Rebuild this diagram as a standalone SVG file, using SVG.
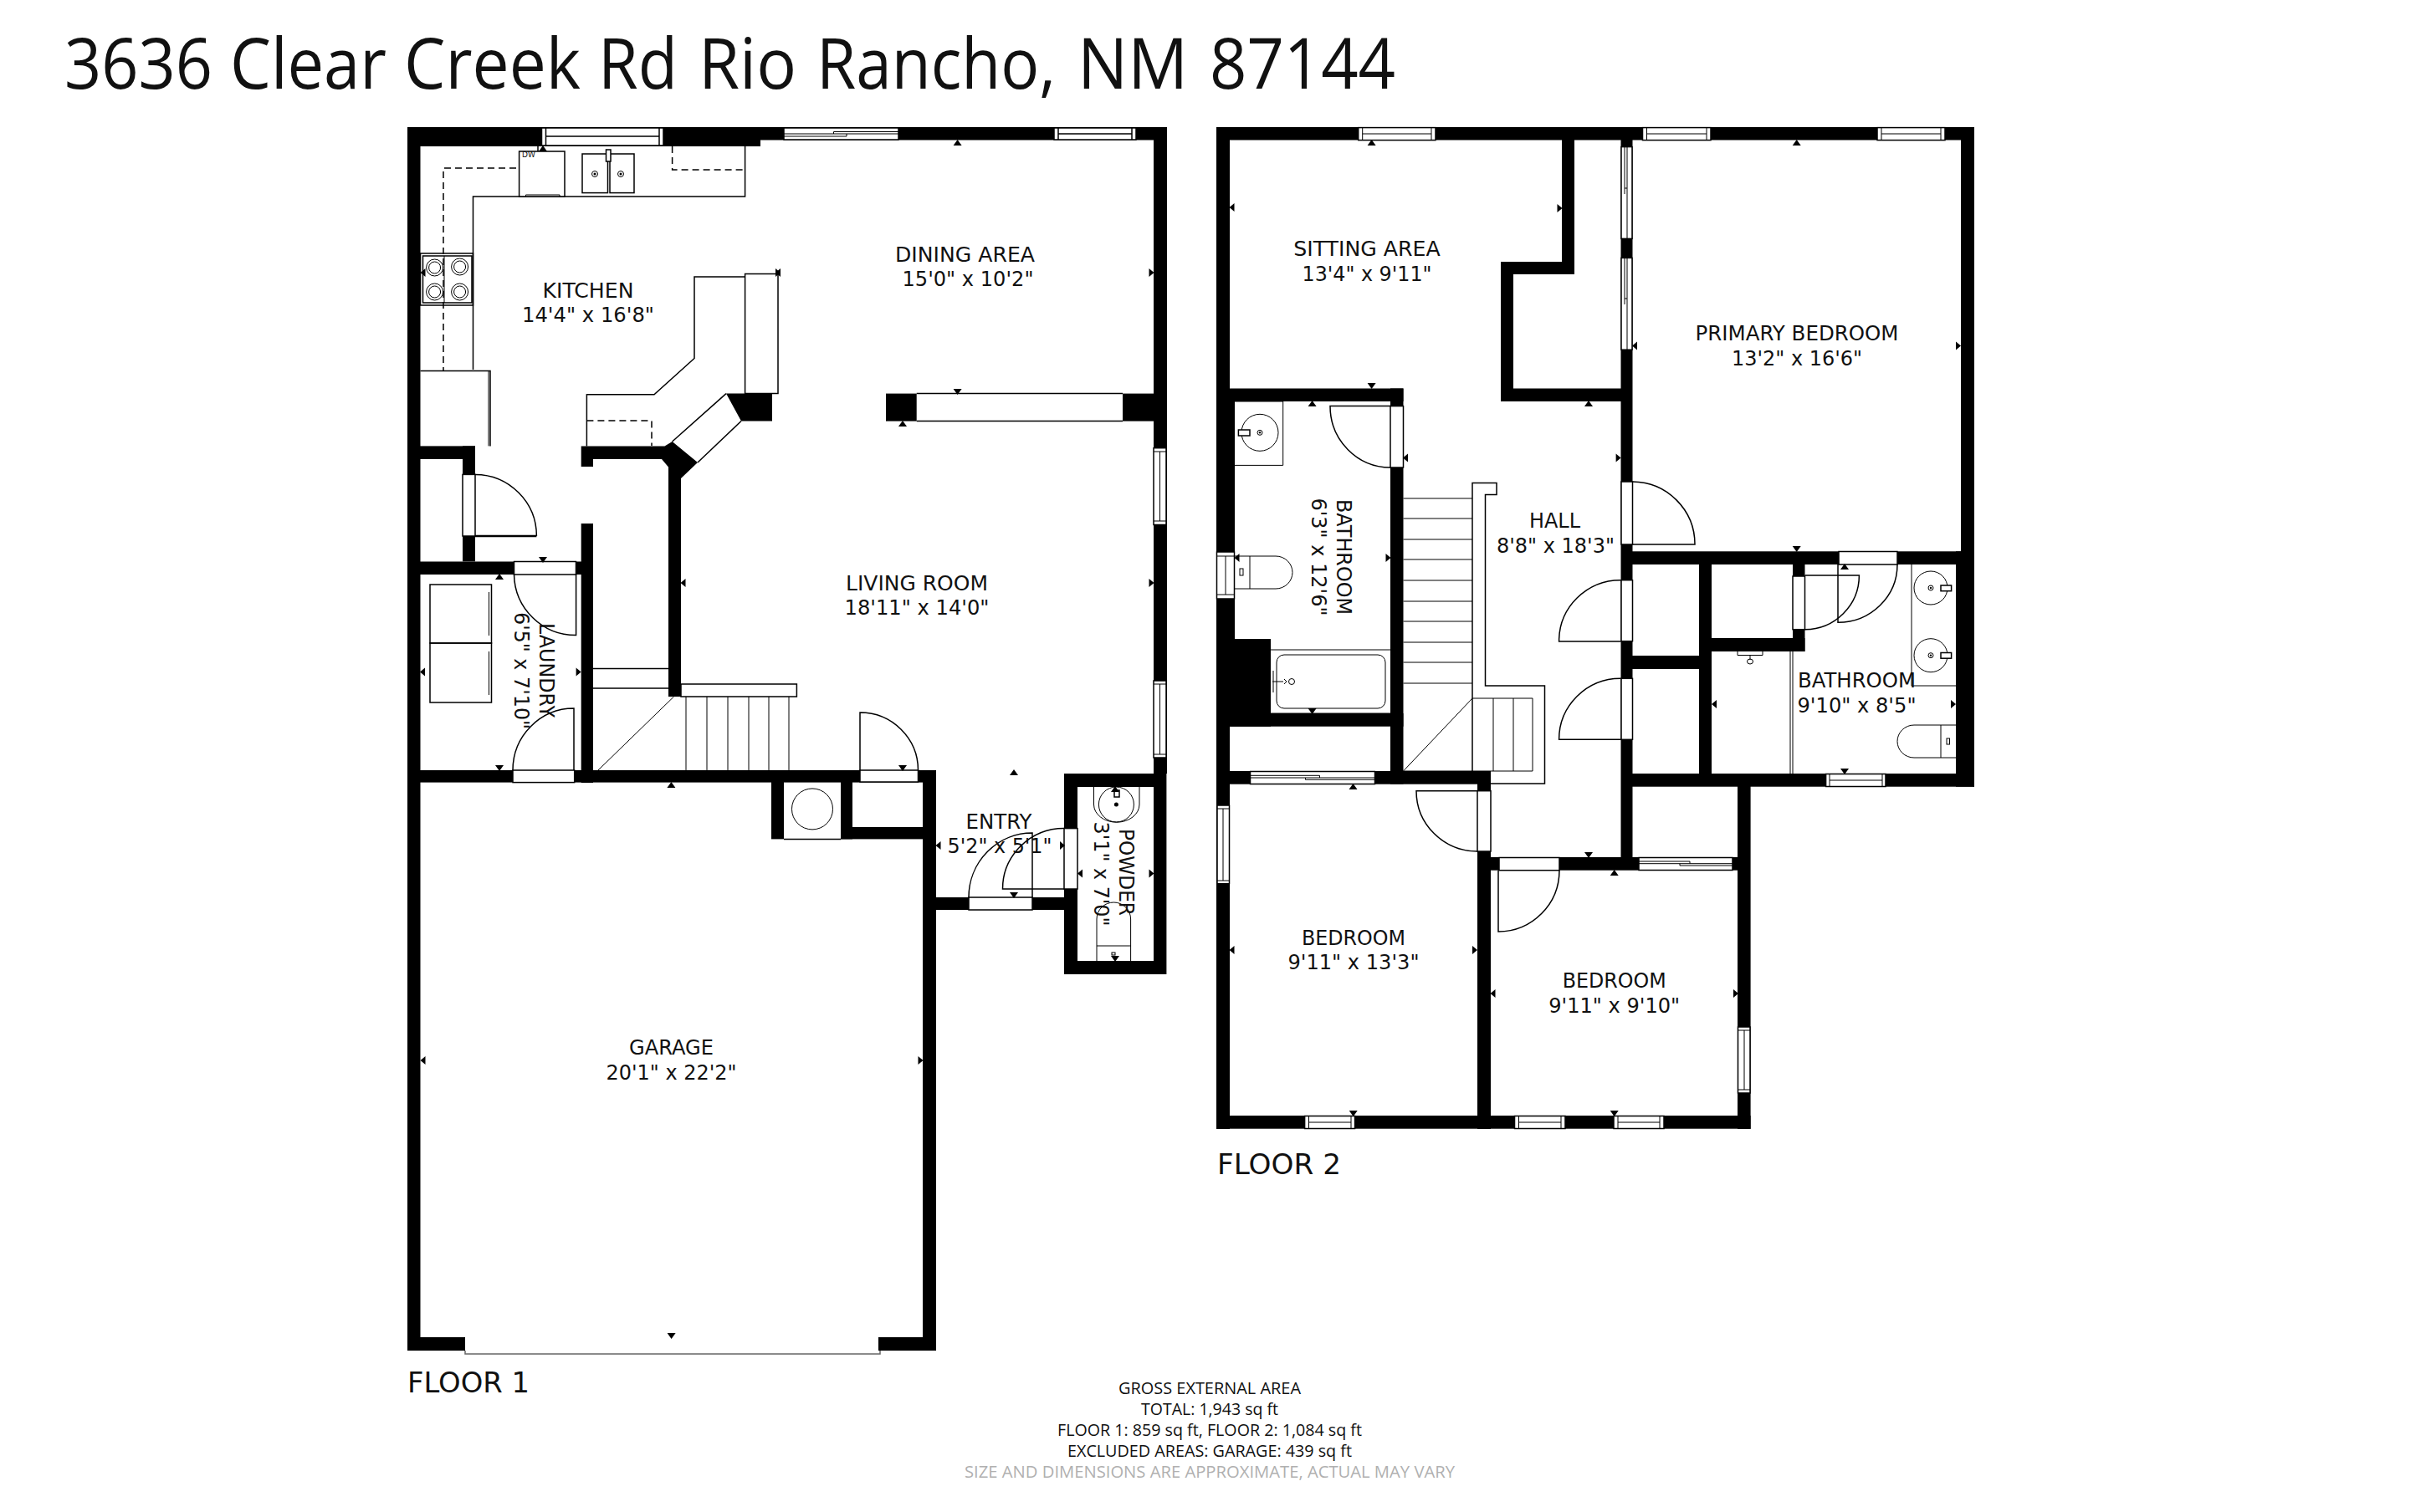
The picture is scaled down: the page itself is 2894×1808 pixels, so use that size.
<svg xmlns="http://www.w3.org/2000/svg" width="2894" height="1808" viewBox="0 0 2894 1808">
<style>
text{font-family:"DejaVu Sans","Liberation Sans",sans-serif;fill:#111;font-size:24px;text-anchor:middle}
.title{font-family:"Open Sans","Noto Sans",sans-serif;font-size:84px;text-anchor:start}
.floor{font-size:33px;text-anchor:start}
.foot{font-family:"Open Sans","Noto Sans",sans-serif;font-size:20px}
.note{fill:#b0b0b0}
.w{fill:#000}
.o{fill:#fff;stroke:#000;stroke-width:1.5}
.l{fill:none;stroke:#000;stroke-width:1.5}
.t{fill:none;stroke:#000;stroke-width:1}
.h{fill:none;stroke:#000;stroke-width:2.5}
.d{fill:none;stroke:#000;stroke-width:1.5;stroke-dasharray:8 5}
.g{fill:none;stroke:#666;stroke-width:1.5}
</style>
<defs>
<polygon id="tu" points="0,-4 5,3 -5,3" fill="#000"/>
<polygon id="td" points="0,4 5,-3 -5,-3" fill="#000"/>
<polygon id="tl" points="-3,0 3,-5 3,5" fill="#000"/>
<polygon id="tr" points="3,0 -3,-5 -3,5" fill="#000"/>
</defs>
<rect width="2894" height="1808" fill="#fff"/>
<text class="title" y="105.5"><tspan x="77" textLength="177" lengthAdjust="spacingAndGlyphs">3636</tspan> <tspan x="275" textLength="187" lengthAdjust="spacingAndGlyphs">Clear</tspan> <tspan x="483" textLength="211" lengthAdjust="spacingAndGlyphs">Creek</tspan> <tspan x="715" textLength="95" lengthAdjust="spacingAndGlyphs">Rd</tspan> <tspan x="835" textLength="117" lengthAdjust="spacingAndGlyphs">Rio</tspan> <tspan x="976" textLength="286" lengthAdjust="spacingAndGlyphs">Rancho,</tspan> <tspan x="1288" textLength="132" lengthAdjust="spacingAndGlyphs">NM</tspan> <tspan x="1446" textLength="222" lengthAdjust="spacingAndGlyphs">87144</tspan></text>

<g id="floor1">
<g id="f1-walls">
<rect class="w" x="487" y="152" width="422" height="23"/>
<rect class="w" x="909" y="152" width="486" height="15.5"/>
<rect class="w" x="487" y="152" width="15.5" height="1463"/>
<rect class="w" x="1379" y="152" width="16" height="773"/>
<rect class="w" x="487" y="533.4" width="81" height="15.6"/>
<rect class="w" x="553" y="533.4" width="15" height="138"/>
<rect class="w" x="487" y="671.5" width="222" height="15.5"/>
<rect class="w" x="694.7" y="626" width="14.3" height="310"/>
<polygon class="w" points="694.7,533.4 794.5,533.4 803.6,528 834,553 814,572 814,833 799,833 799,558.6 791,549 709,549 709,558 694.7,558"/>
<polygon class="w" points="868,470.6 923,470.6 923,503.5 886,503.5"/>
<rect class="w" x="1059" y="470.6" width="36.7" height="33"/>
<rect class="w" x="1342" y="470.6" width="40" height="33"/>
<rect class="w" x="487" y="921" width="632" height="14.6"/>
<rect class="w" x="1103" y="921" width="16" height="694"/>
<rect class="w" x="922" y="935" width="15" height="68.4"/>
<rect class="w" x="1005" y="935" width="14" height="68.4"/>
<rect class="w" x="1005" y="989" width="114" height="14.4"/>
<rect class="w" x="1119" y="1073" width="153" height="15"/>
<path class="w" d="M1272,925H1394.4V1165H1272ZM1288,941V1149H1379V941Z" fill-rule="evenodd"/>
<rect class="w" x="487" y="1599" width="69" height="16"/>
<rect class="w" x="1050" y="1599" width="69" height="16"/>
</g>
<g id="f1-openings">
<rect class="o" x="647.5" y="153" width="145.5" height="21"/>
<path class="l" d="M652.5,153V174M788,153V174M652.5,163H788"/>
<rect class="o" x="937" y="153" width="137" height="14"/>
<path class="t" d="M937,160H1074M996.5,160V157.5H1074M1012,160V163H937"/>
<rect class="o" x="1260" y="153" width="98" height="14"/>
<path class="l" d="M1265,153V167M1353,153V167M1265,160H1353"/>
<rect class="o" x="1379" y="535.7" width="15" height="91.8"/>
<path class="t" d="M1379,540H1394M1379,623H1394M1386.5,540V623"/>
<rect class="o" x="1379" y="814" width="15" height="92"/>
<path class="t" d="M1379,818H1394M1379,902H1394M1386.5,818V902"/>
<path class="l" d="M1095.7,470.6H1342M1095.7,503.5H1342"/>
<path class="l" d="M868,470.6L803.6,528M886,503.5L834,553"/>
<rect class="o" x="553" y="567.4" width="15" height="73.6"/>
<path class="h" d="M568,641H641.4"/><path class="l" d="M568,567.4A73.6,73.6 0 0 1 641.4,641"/>
<rect class="o" x="614.5" y="671.5" width="74" height="15.5"/>
<path class="l" d="M688.6,687V759.6A74,74 0 0 1 614.5,687"/>
<rect class="o" x="613" y="921" width="73.7" height="14.6"/>
<path class="l" d="M686,921V847A73,74 0 0 0 613,921"/>
<rect class="o" x="1028" y="921" width="69.5" height="14"/>
<path class="l" d="M1028,921V852A69.5,69 0 0 1 1097.5,921"/>
<rect class="o" x="1158" y="1073" width="76" height="15"/>
<path class="l" d="M1234,1073V996A76,77 0 0 0 1158,1073"/>
<rect class="o" x="1272" y="990.6" width="16" height="72.4"/>
<path class="l" d="M1272,1063H1198.5A73.5,72.4 0 0 1 1272,990.6"/>
<path class="g" d="M556,1615V1619H1052V1615"/>
</g>
<g id="f1-fixtures">
<path class="l" d="M565.5,442V235H890.6V175"/>
<path class="d" d="M643,175V201H530V443"/>
<path class="d" d="M803.6,175V203H890.6"/>
<rect class="o" x="620.6" y="181" width="54.4" height="54"/>
<path class="t" d="M628.5,235V233H669V235"/>
<text x="632" y="188" style="font-size:9px">DW</text>
<rect class="l" x="696" y="184" width="30.5" height="46.6"/>
<rect class="l" x="729" y="184" width="29" height="46.6"/>
<rect class="o" x="724.5" y="179" width="5.5" height="14"/>
<circle class="t" cx="711" cy="208" r="3.5"/><circle class="w" cx="711" cy="208" r="1.5"/>
<circle class="t" cx="742" cy="208" r="3.5"/><circle class="w" cx="742" cy="208" r="1.5"/>
<rect class="l" x="502.5" y="303" width="63" height="62"/>
<rect class="l" x="505.5" y="306" width="58.5" height="56"/>
<path class="t" d="M531,306V362"/>
<circle class="t" cx="519.6" cy="320" r="10"/><circle class="t" cx="519.6" cy="320" r="7"/>
<circle class="t" cx="549.6" cy="319" r="10"/><circle class="t" cx="549.6" cy="319" r="7"/>
<circle class="t" cx="519.6" cy="349" r="10"/><circle class="t" cx="519.6" cy="349" r="7"/>
<circle class="t" cx="549.6" cy="349" r="10"/><circle class="t" cx="549.6" cy="349" r="7"/>
<path class="l" d="M502.5,443.4H586V533.4"/><path class="t" d="M584,443.4V533.4"/>
<path class="l" d="M701.4,533.4V471.7H782L830,428.5V331H890.6"/>
<rect class="l" x="890.6" y="327.5" width="39.4" height="143"/>
<path class="d" d="M701.4,503H779V533"/>
<rect class="l" x="514" y="699" width="73.5" height="70"/>
<rect class="l" x="514" y="769" width="73.5" height="71"/>
<path class="t" d="M584.5,708V760M584.5,779V831"/>
<path class="l" d="M709,799.6H799M709,823H799"/>
<rect class="l" x="814" y="818" width="138.4" height="15"/>
<path class="t" d="M820,833V921M845,833V921M870,833V921M895,833V921M919,833V921M943,833V921"/>
<path class="t" d="M805.5,833L715,921"/>
<circle class="t" cx="971" cy="967.4" r="24.5"/>
<path class="l" d="M937,1003.4H1005"/>
<path class="t" d="M1307.5,941V962A27,21 0 0 0 1362,962V941"/>
<circle class="t" cx="1334.4" cy="962" r="21"/><circle class="w" cx="1334.4" cy="962" r="2.5"/>
<rect class="o" x="1332" y="945" width="6" height="8"/>
<path class="t" d="M1311,1149V1099A20.3,20 0 0 1 1351.6,1099V1149M1311,1131H1351.6"/>
<rect class="t" x="1329" y="1139" width="4" height="3"/>
</g>
<g id="f1-marks">
<use href="#tu" x="649" y="178"/><use href="#tu" x="1144.6" y="171"/><use href="#tl" x="505.5" y="326"/><use href="#tl" x="930" y="326"/><use href="#tr" x="930" y="326"/><use href="#tr" x="1376.5" y="326"/>
<use href="#td" x="1144.6" y="468"/><use href="#tu" x="1079" y="507"/><use href="#td" x="649" y="669"/><use href="#tu" x="597" y="690"/><use href="#tl" x="816.5" y="697"/><use href="#tr" x="1376.5" y="697"/>
<use href="#tl" x="505" y="803.5"/><use href="#tr" x="691.6" y="803.5"/><use href="#td" x="597" y="918"/><use href="#tu" x="802.4" y="939"/><use href="#td" x="1079" y="918"/><use href="#tu" x="1212" y="924"/>
<use href="#tl" x="1121.5" y="1011"/><use href="#tr" x="1270" y="1011"/><use href="#td" x="1212" y="1070"/><use href="#tu" x="1333" y="944"/><use href="#tl" x="1291" y="1044.5"/><use href="#tr" x="1376.5" y="1044.5"/><use href="#td" x="1333" y="1146"/>
<use href="#tl" x="505.5" y="1268"/><use href="#tr" x="1100.5" y="1268"/><use href="#td" x="802.6" y="1597"/>
</g>
<g id="f1-labels">
<text x="703" y="356" textLength="109" lengthAdjust="spacingAndGlyphs">KITCHEN</text>
<text x="703" y="385" textLength="158" lengthAdjust="spacingAndGlyphs">14'4" x 16'8"</text>
<text x="1153.5" y="313" textLength="167" lengthAdjust="spacingAndGlyphs">DINING AREA</text>
<text x="1157" y="341.6" textLength="157" lengthAdjust="spacingAndGlyphs">15'0" x 10'2"</text>
<text x="1096" y="706" textLength="170" lengthAdjust="spacingAndGlyphs">LIVING ROOM</text>
<text x="1096" y="734.6" textLength="173" lengthAdjust="spacingAndGlyphs">18'11" x 14'0"</text>
<text transform="translate(645,801.5) rotate(90)" textLength="113" lengthAdjust="spacingAndGlyphs">LAUNDRY</text>
<text transform="translate(615,802) rotate(90)" textLength="140" lengthAdjust="spacingAndGlyphs">6'5" x 7'10"</text>
<text x="1194" y="990.6" textLength="79" lengthAdjust="spacingAndGlyphs">ENTRY</text>
<text x="1195" y="1020" textLength="125" lengthAdjust="spacingAndGlyphs">5'2" x 5'1"</text>
<text transform="translate(1338,1043) rotate(90)" textLength="104" lengthAdjust="spacingAndGlyphs">POWDER</text>
<text transform="translate(1308,1045) rotate(90)" textLength="125" lengthAdjust="spacingAndGlyphs">3'1" x 7'0"</text>
<text x="802.5" y="1260.7" textLength="101" lengthAdjust="spacingAndGlyphs">GARAGE</text>
<text x="802.5" y="1291" textLength="156" lengthAdjust="spacingAndGlyphs">20'1" x 22'2"</text>
<text class="floor" x="487" y="1665" textLength="146" lengthAdjust="spacingAndGlyphs">FLOOR 1</text>
</g>
</g>

<g id="floor2">
<g id="f2-walls">
<rect class="w" x="1454" y="152" width="906" height="15.5"/>
<rect class="w" x="1454" y="152" width="16" height="1198"/>
<rect class="w" x="1454" y="480" width="22" height="284"/>
<rect class="w" x="1454" y="764" width="65" height="104.7"/>
<rect class="w" x="2344" y="152" width="16" height="515"/>
<rect class="w" x="2338" y="659.3" width="22" height="281.4"/>
<rect class="w" x="1867" y="152" width="15" height="176"/>
<rect class="w" x="1794" y="313" width="88" height="15"/>
<rect class="w" x="1794" y="313" width="15" height="167"/>
<rect class="w" x="1794" y="464.5" width="150" height="15.5"/>
<rect class="w" x="1937.5" y="152" width="14" height="888"/>
<rect class="w" x="1454" y="464.5" width="223.5" height="15.5"/>
<rect class="w" x="1662" y="464.5" width="15.5" height="473"/>
<rect class="w" x="1470" y="853" width="207.5" height="15.7"/>
<rect class="w" x="1454" y="922" width="328" height="15.7"/>
<rect class="w" x="1766" y="922" width="16" height="428"/>
<rect class="w" x="1766" y="1025" width="311" height="15.7"/>
<rect class="w" x="1951" y="659.3" width="409" height="15.7"/>
<rect class="w" x="2031" y="675" width="15" height="250"/>
<rect class="w" x="1951" y="784" width="80" height="16"/>
<rect class="w" x="2143" y="675" width="14.5" height="104"/>
<rect class="w" x="2046" y="763" width="111.5" height="16"/>
<rect class="w" x="1938" y="925" width="422" height="15.7"/>
<rect class="w" x="2077" y="940" width="15.6" height="410"/>
<rect class="w" x="1454" y="1334" width="638.6" height="15.7"/>
</g>
<g id="f2-openings">
<rect class="o" x="1623.7" y="152.6" width="92.3" height="15"/>
<path class="t" d="M1628.7,152.6V167.5M1711,152.6V167.5M1628.7,160H1711"/>
<rect class="o" x="1963.5" y="152.6" width="81.5" height="15"/>
<path class="t" d="M1968.5,152.6V167.5M2040,152.6V167.5M1968.5,160H2040"/>
<rect class="o" x="2244" y="152.6" width="81" height="15"/>
<path class="t" d="M2249,152.6V167.5M2320,152.6V167.5M2249,160H2320"/>
<rect class="o" x="1938" y="175.6" width="13" height="109.8"/>
<path class="t" d="M1942,175.6V225M1945,225V285.4M1942,225H1945M1942,225V232M1945,175.6V225"/>
<rect class="o" x="1938" y="308.4" width="13" height="109.8"/>
<path class="t" d="M1942,308.4V357M1945,357V418.2M1942,357H1945M1942,357V364M1945,308.4V357"/>
<rect class="o" x="1454.5" y="660" width="21" height="56"/>
<path class="t" d="M1454.5,665H1475.5M1454.5,711H1475.5M1465,665V711"/>
<rect class="o" x="1455" y="963" width="14.5" height="93.7"/>
<path class="t" d="M1455,967H1469.5M1455,1053H1469.5M1462,967V1053"/>
<rect class="o" x="2077.5" y="1228" width="14.5" height="79"/>
<path class="t" d="M2077.5,1232H2092M2077.5,1303H2092M2085,1232V1303"/>
<rect class="o" x="2182.6" y="925.5" width="71.4" height="15"/>
<path class="t" d="M2187,925.5V940.5M2250,925.5V940.5M2187,933H2250"/>
<rect class="o" x="1559.6" y="1334.5" width="60" height="15"/>
<path class="t" d="M1564.5,1334.5V1349.5M1615,1334.5V1349.5M1564.5,1342H1615"/>
<rect class="o" x="1810.5" y="1334.5" width="60.5" height="15"/>
<path class="t" d="M1815.5,1334.5V1349.5M1866,1334.5V1349.5M1815.5,1342H1866"/>
<rect class="o" x="1929" y="1334.5" width="60" height="15"/>
<path class="t" d="M1934,1334.5V1349.5M1984,1334.5V1349.5M1934,1342H1984"/>
<rect class="o" x="1494.5" y="922.5" width="149" height="15"/>
<path class="t" d="M1494.5,927.3H1577.5V930M1494.5,930H1643.6M1560.5,930V932.3H1643.6"/>
<rect class="o" x="1959" y="1025.5" width="112" height="15"/>
<path class="t" d="M1959,1030H2020V1032.7M1959,1032.7H2071M2008,1032.7V1035H2071"/>
<rect class="o" x="1938" y="576" width="13.5" height="75"/>
<path class="l" d="M1951.5,651H2026A75,75 0 0 0 1951.5,576"/>
<rect class="o" x="1938" y="693.7" width="13.5" height="73"/>
<path class="l" d="M1937.5,767H1863.6A73.5,73 0 0 1 1937.5,693.7"/>
<rect class="o" x="1938" y="811.3" width="13.5" height="73"/>
<path class="l" d="M1937.5,884.3H1863.6A73.5,73 0 0 1 1937.5,811.3"/>
<rect class="o" x="2198" y="659.5" width="70" height="15.5"/>
<path class="l" d="M2197,675V744.3A71,69.3 0 0 0 2268,675"/>
<rect class="o" x="2143" y="689" width="14.5" height="63.7"/>
<path class="l" d="M2157.5,688H2222.4A65,64.7 0 0 1 2157.5,752.7"/>
<rect class="o" x="1662" y="485.6" width="15.5" height="73.4"/>
<path class="l" d="M1662,485.6H1590A72,73.4 0 0 0 1662,559"/>
<rect class="o" x="1766" y="945.7" width="16" height="72.3"/>
<path class="l" d="M1766,945.7H1693A73,72.3 0 0 0 1766,1018"/>
<rect class="o" x="1792" y="1025.5" width="72" height="15.2"/>
<path class="l" d="M1791,1040.7V1114A73,73.3 0 0 0 1864,1040.7"/>
</g>
<g id="f2-fixtures">
<path class="t" d="M1476,480H1533.7V556.4H1476"/>
<circle class="t" cx="1506" cy="517.3" r="22"/><circle class="t" cx="1506" cy="517.3" r="3"/><circle class="w" cx="1506" cy="517.3" r="1.2"/>
<rect class="o" x="1480.4" y="514" width="13.6" height="7"/>
<path class="t" d="M1476,665H1525A20,19.5 0 0 1 1525,704H1476M1494,665V704"/>
<rect class="t" x="1482" y="680" width="4" height="8"/>
<path class="t" d="M1519,777H1662M1519,853H1662"/>
<rect class="t" x="1526" y="783" width="130" height="64" rx="9"/>
<path class="t" d="M1521,815H1534M1522,802V828M1535,812L1538,815L1535,818"/>
<circle class="t" cx="1544" cy="815" r="3.5"/>
<path class="t" d="M1677.5,596H1760M1677.5,620H1760M1677.5,645H1760M1677.5,669H1760M1677.5,694H1760M1677.5,719H1760M1677.5,743H1760M1677.5,768H1760M1677.5,792H1760M1677.5,817H1760"/>
<path class="l" d="M1760,922V577.4H1789V591.6H1775.5V820H1846.5V937H1782"/>
<path class="t" d="M1760,835H1832V922H1677.5M1785,835V922M1809,835V922"/>
<path class="t" d="M1760,835L1677.5,922"/>
<path class="t" d="M2285,675V820H2338"/>
<circle class="t" cx="2308" cy="703" r="20"/><circle class="t" cx="2308" cy="703" r="3"/><circle class="w" cx="2308" cy="703" r="1.2"/>
<rect class="o" x="2320" y="700" width="12.6" height="6.7"/>
<circle class="t" cx="2308" cy="783.7" r="20"/><circle class="t" cx="2308" cy="783.7" r="3"/><circle class="w" cx="2308" cy="783.7" r="1.2"/>
<rect class="o" x="2320" y="780.5" width="12.6" height="6.7"/>
<path class="t" d="M2338,867H2288A20,19.5 0 0 0 2288,906H2338M2320,867V906"/>
<rect class="t" x="2327" y="883" width="3.5" height="7"/>
<path class="t" d="M2140,779V925M2143,779V925"/>
<path class="t" d="M2077,779V783.5H2107V779M2092,783.5V789"/>
<ellipse class="t" cx="2092" cy="791" rx="3.5" ry="3"/>
</g>
<g id="f2-marks">
<use href="#tu" x="1639.6" y="171"/><use href="#tl" x="1472.5" y="248"/><use href="#tr" x="1864.5" y="249"/><use href="#td" x="1639.6" y="461"/><use href="#tu" x="1568.6" y="483"/><use href="#tu" x="1899" y="483"/>
<use href="#tu" x="2147.7" y="171"/><use href="#tl" x="1954" y="413.6"/><use href="#tr" x="2341" y="413.6"/><use href="#tl" x="1680" y="547.6"/><use href="#tr" x="1934.6" y="547.6"/><use href="#td" x="2147.7" y="656"/>
<use href="#tl" x="1478.5" y="667"/><use href="#tr" x="1659.5" y="667"/><use href="#tu" x="2205" y="678"/><use href="#td" x="1568.6" y="850"/><use href="#tl" x="2049" y="842"/><use href="#tr" x="2335" y="842"/>
<use href="#td" x="2205" y="922"/><use href="#td" x="1899" y="1022"/><use href="#tu" x="1617.5" y="941"/><use href="#tu" x="1929.7" y="1044"/><use href="#tl" x="1472.5" y="1136"/><use href="#tr" x="1763" y="1136"/>
<use href="#tl" x="1784.5" y="1188"/><use href="#tr" x="2075" y="1188"/><use href="#td" x="1617.7" y="1331"/><use href="#td" x="1929.7" y="1331"/>
</g>
<g id="f2-labels">
<text x="1634" y="305.7" textLength="175.6" lengthAdjust="spacingAndGlyphs">SITTING AREA</text>
<text x="1634" y="336" textLength="155" lengthAdjust="spacingAndGlyphs">13'4" x 9'11"</text>
<text x="2148" y="406.7" textLength="243" lengthAdjust="spacingAndGlyphs">PRIMARY BEDROOM</text>
<text x="2148" y="436.6" textLength="156" lengthAdjust="spacingAndGlyphs">13'2" x 16'6"</text>
<text x="1858.5" y="631" textLength="61" lengthAdjust="spacingAndGlyphs">HALL</text>
<text x="1859.5" y="660.5" textLength="141" lengthAdjust="spacingAndGlyphs">8'8" x 18'3"</text>
<text transform="translate(1598,666) rotate(90)" textLength="138" lengthAdjust="spacingAndGlyphs">BATHROOM</text>
<text transform="translate(1568,666) rotate(90)" textLength="141" lengthAdjust="spacingAndGlyphs">6'3" x 12'6"</text>
<text x="2219.5" y="821.7" textLength="141" lengthAdjust="spacingAndGlyphs">BATHROOM</text>
<text x="2219.5" y="851.7" textLength="142" lengthAdjust="spacingAndGlyphs">9'10" x 8'5"</text>
<text x="1618" y="1130" textLength="124" lengthAdjust="spacingAndGlyphs">BEDROOM</text>
<text x="1618" y="1159" textLength="157" lengthAdjust="spacingAndGlyphs">9'11" x 13'3"</text>
<text x="1929.7" y="1181" textLength="124" lengthAdjust="spacingAndGlyphs">BEDROOM</text>
<text x="1929.7" y="1211" textLength="157" lengthAdjust="spacingAndGlyphs">9'11" x 9'10"</text>
<text class="floor" x="1455" y="1404" textLength="148" lengthAdjust="spacingAndGlyphs">FLOOR 2</text>
</g>
</g>

<g id="area-summary">
<text class="foot" x="1446" y="1666.7" textLength="218" lengthAdjust="spacingAndGlyphs">GROSS EXTERNAL AREA</text>
<text class="foot" x="1446" y="1691.7" textLength="164" lengthAdjust="spacingAndGlyphs">TOTAL: 1,943 sq ft</text>
<text class="foot" x="1446" y="1717" textLength="364" lengthAdjust="spacingAndGlyphs">FLOOR 1: 859 sq ft, FLOOR 2: 1,084 sq ft</text>
<text class="foot" x="1446" y="1742" textLength="340" lengthAdjust="spacingAndGlyphs">EXCLUDED AREAS: GARAGE: 439 sq ft</text>
<text class="foot note" x="1446" y="1766.7" textLength="586" lengthAdjust="spacingAndGlyphs">SIZE AND DIMENSIONS ARE APPROXIMATE, ACTUAL MAY VARY</text>
</g>
</svg>
